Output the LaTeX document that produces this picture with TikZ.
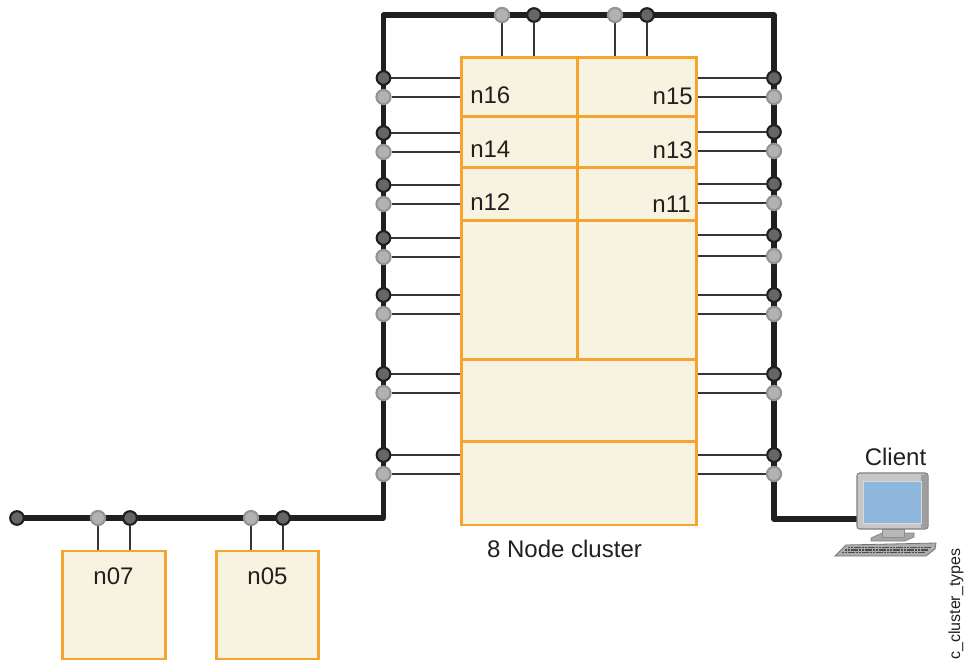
\documentclass[tikz,border=0pt]{standalone}
\usepackage{fontspec}
\setmainfont{Liberation Sans}
\usetikzlibrary{fit,backgrounds}
\definecolor{cellfill}{HTML}{F8F2E0}
\definecolor{cellline}{HTML}{F6A430}
\definecolor{inkc}{HTML}{231F20}
\definecolor{screenc}{HTML}{8FB6DC}
\tikzset{
  x=0.75pt,y=-0.75pt,
  cell/.style={draw=cellline,fill=cellfill,line width=2.05pt,inner sep=0pt,outer sep=0pt,rectangle},
  darkport/.style={circle,draw=inkc,fill=black!60,line width=1.6pt,minimum size=10.2pt,inner sep=0pt},
  grayport/.style={circle,draw=black!42,fill=black!30,line width=1.6pt,minimum size=10.6pt,inner sep=0pt},
  bus/.style={draw=inkc,line width=4.1pt,line join=round,line cap=round},
  wire/.style={draw=inkc!90,line width=1.6pt},
  lab/.style={font=\fontsize{18}{20}\selectfont,text=inkc,inner sep=0pt},
}
\begin{document}
\begin{tikzpicture}
\useasboundingbox (0,0) rectangle (964,660);
% cells
\node[cell,fit={(461.5,57.5)(577.5,116.5)}] (b16) {};
\node[cell,fit={(577.5,57.5)(696.5,116.5)}] (b15) {};
\node[cell,fit={(461.5,116.5)(577.5,167.5)}] (b14) {};
\node[cell,fit={(577.5,116.5)(696.5,167.5)}] (b13) {};
\node[cell,fit={(461.5,167.5)(577.5,220.5)}] (b12) {};
\node[cell,fit={(577.5,167.5)(696.5,220.5)}] (b11) {};
\node[cell,fit={(461.5,220.5)(577.5,359.5)}] (bL) {};
\node[cell,fit={(577.5,220.5)(696.5,359.5)}] (bR) {};
\node[cell,fit={(461.5,359.5)(696.5,441.5)}] (bW) {};
\node[cell,fit={(461.5,441.5)(696.5,525)}] (bX) {};
\node[cell,fit={(62.5,551)(165.5,659)}] (b07) {};
\node[cell,fit={(216.5,551)(318.5,659)}] (b05) {};
% labels
\node[lab,anchor=base west] (t16) at (470,103.3) {n16};
\node[lab,anchor=base west] (t14) at (470,157) {n14};
\node[lab,anchor=base west] (t12) at (470,210) {n12};
\node[lab,anchor=base east] (t15) at (693,104.5) {n15};
\node[lab,anchor=base east] (t13) at (693,158) {n13};
\node[lab,anchor=base east] (t11) at (691,212) {n11};
\node[lab,anchor=base] (t07) at (113.5,584) {n07};
\node[lab,anchor=base] (t05) at (267.5,584) {n05};
\node[lab,anchor=base] (tc) at (564.5,557) {8 Node cluster};
\node[lab,anchor=base] (tclient) at (895.5,465) {Client};
\node[font=\fontsize{12}{14}\selectfont,text=inkc,inner sep=0pt,rotate=90,anchor=base west] (tid) at (960,660) {c\_cluster\_types};
% bus corners and ends
\coordinate (cTL) at (383.5,15);
\coordinate (cTR) at (774,15);
\coordinate (cBL) at (383.5,518);
\coordinate (cBR) at (774,519);
% computer
\node[inner sep=0pt,minimum width=53.25pt,minimum height=42pt,draw=black!50,fill=black!22,line width=.8pt,rounded corners=2pt] (mon) at (892.5,501) {};
\fill[black!38] (921,475) -- (927,474) -- (927,528) -- (921,528) -- cycle;
\node[inner sep=0pt,minimum width=43.5pt,minimum height=31.5pt,draw=white!85!black,fill=screenc,line width=.6pt] (scr) at (892,502) {};
% ports, left side
\foreach \i/\d/\g/\b in {1/78/97/b16,2/133/152/b14,3/185/204/b12,4/238/257/bL,5/295/314/bL,6/374/393/bW,7/455/474/bX}{
  \node[darkport] (Ld\i) at (383.5,\d) {};
  \node[grayport] (Lg\i) at (383.5,\g) {};
  \begin{scope}[on background layer]
    \draw[wire] (Ld\i) -- (Ld\i -| \b.west);
    \draw[wire] (Lg\i) -- (Lg\i -| \b.west);
  \end{scope}
}
% ports, right side
\foreach \i/\d/\g/\b in {1/78/97/b15,2/132/151/b13,3/184/203/b11,4/235/256/bR,5/295/314/bR,6/374/393/bW,7/455/474/bX}{
  \node[darkport] (Rd\i) at (774,\d) {};
  \node[grayport] (Rg\i) at (774,\g) {};
  \begin{scope}[on background layer]
    \draw[wire] (Rd\i) -- (Rd\i -| \b.east);
    \draw[wire] (Rg\i) -- (Rg\i -| \b.east);
  \end{scope}
}
% ports, top
\node[grayport] (Tg1) at (502,15) {};
\node[darkport] (Td1) at (534,15) {};
\node[grayport] (Tg2) at (615,15) {};
\node[darkport] (Td2) at (647,15) {};
% ports, lower bus
\node[darkport] (E) at (17,518) {};
\node[grayport] (Bg7) at (98,518) {};
\node[darkport] (Bd7) at (130,518) {};
\node[grayport] (Bg5) at (251,518) {};
\node[darkport] (Bd5) at (283,518) {};
\begin{scope}[on background layer]
  \draw[wire] (Tg1) -- (Tg1 |- b16.north);
  \draw[wire] (Td1) -- (Td1 |- b16.north);
  \draw[wire] (Tg2) -- (Tg2 |- b15.north);
  \draw[wire] (Td2) -- (Td2 |- b15.north);
  \draw[wire] (Bg7) -- (Bg7 |- b07.north);
  \draw[wire] (Bd7) -- (Bd7 |- b07.north);
  \draw[wire] (Bg5) -- (Bg5 |- b05.north);
  \draw[wire] (Bd5) -- (Bd5 |- b05.north);
  \draw[bus] (E.center) -- (cBL) -- (cTL) -- (cTR) -- (cBR) -- (mon.west |- cBR);
\end{scope}
% monitor stand
\begin{scope}[on background layer]
  \fill[black!35,draw=black!50,line width=.5pt] (871,538) -- (882,533) -- (904,533) -- (914,533) -- (914,537) -- (905,541) -- (871,541) -- cycle;
  \fill[black!28,draw=black!45,line width=.5pt] (882,529) rectangle (904,537);
\end{scope}
% keyboard
\fill[black!32,draw=black!55,line width=.6pt] (835,556) -- (846,545) -- (936,543) -- (935,549) -- (926,556) -- cycle;
\foreach \yy/\xa/\xb in {547.5/848/931,550/845/928,552.5/842/925}{
  \draw[black!70,line width=1.1pt,dash pattern=on 1.6pt off .5pt] (\xa,\yy) -- (\xb,\yy);
}
\end{tikzpicture}
\end{document}
